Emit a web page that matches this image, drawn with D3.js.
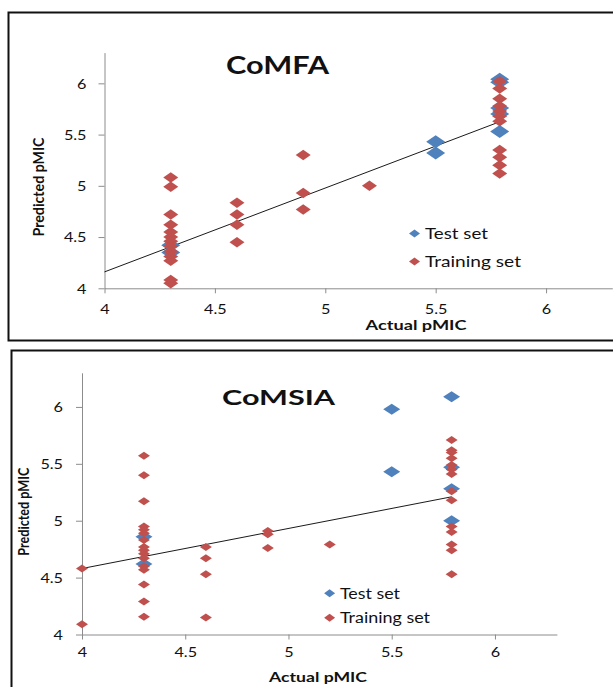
<!DOCTYPE html>
<html><head><meta charset="utf-8">
<script src="https://cdn.jsdelivr.net/npm/d3@7"></script>
<style>body{margin:0;background:#fff}svg{display:block}text{font-family:Lato,"Open Sans",sans-serif;fill:#111}</style>
</head><body>
<svg id="c" width="613" height="687"></svg>
<script>
// ---- data ----
const xTicks = [4, 4.5, 5, 5.5, 6];
const yTicks = [4, 4.5, 5, 5.5, 6];
const titles = ["CoMFA", "CoMSIA"];
const seriesNames = ["Test set", "Training set"];

const comfaTestActual = [4.3, 4.3, 5.5, 5.5, 5.79, 5.79, 5.79, 5.79, 5.79];
const comfaTestPred   = [4.42, 4.35, 5.43, 5.32, 6.04, 6.01, 5.76, 5.70, 5.53];
const comfaTrainActual = [4.3,4.3,4.3,4.3,4.3,4.3,4.3,4.3,4.3,4.3,4.3,4.3,4.3,
  4.6,4.6,4.6,4.6, 4.9,4.9,4.9, 5.2,
  5.79,5.79,5.79,5.79,5.79,5.79,5.79,5.79,5.79,5.79,5.79];
const comfaTrainPred = [5.08,4.99,4.72,4.62,4.55,4.50,4.46,4.41,4.36,4.31,4.27,4.08,4.05,
  4.835,4.72,4.62,4.45, 5.30,4.93,4.77, 5.00,
  6.02,5.95,5.85,5.78,5.73,5.68,5.63,5.35,5.28,5.20,5.12];
const comfaFitX = [4, 5.79];
const comfaFitY = [4.16, 5.625];

const comsiaTestActual = [4.3, 4.3, 5.5, 5.5, 5.79, 5.79, 5.79, 5.79];
const comsiaTestPred   = [4.86, 4.62, 5.98, 5.43, 6.09, 5.47, 5.28, 5.00];
const comsiaTrainActual = [4, 4,
  4.3,4.3,4.3,4.3,4.3,4.3,4.3,4.3,4.3,4.3,4.3,4.3,4.3,4.3,4.3,4.3,
  4.6,4.6,4.6,4.6, 4.9,4.9,4.9, 5.2,
  5.79,5.79,5.79,5.79,5.79,5.79,5.79,5.79,5.79,5.79,5.79,5.79,5.79,5.79];
const comsiaTrainPred = [4.58, 4.09,
  5.57,5.40,5.17,4.95,4.92,4.89,4.83,4.77,4.74,4.71,4.67,4.60,4.57,4.44,4.29,4.155,
  4.77,4.67,4.53,4.15, 4.91,4.88,4.76, 4.79,
  5.71,5.62,5.60,5.55,5.49,5.45,5.41,5.26,5.18,4.95,4.90,4.79,4.74,4.53];
const comsiaFitX = [4, 5.79];
const comsiaFitY = [4.58, 5.21];

const xLabel = "Actual pMIC";
const yLabel = "Predicted pMIC";
const colTest = "#4F81BD", colTrain = "#C0504D";

// ---- drawing ----
const svg = d3.select("#c");
const SX = 1.2; // horizontal text stretch of the original picture

function stretch(sel, k) {
  sel.each(function () {
    const L = this.getComputedTextLength();
    this.setAttribute("textLength", L * k);
    this.setAttribute("lengthAdjust", "spacingAndGlyphs");
  });
}
function fit(sel, w) {
  sel.attr("textLength", w).attr("lengthAdjust", "spacingAndGlyphs");
}
function diamond(w, h) {
  return `M0,${-h/2}L${w/2},0L0,${h/2}L${-w/2},0Z`;
}

const panels = [
  {frame:[8.5,12.5,700,328], x:[104.5,612.3], y:[288.3,52.6],
   title:titles[0], titleX:277.5, titleY:73.5, titleSize:25, titleW:103,
   test:[comfaTestActual, comfaTestPred], train:[comfaTrainActual, comfaTrainPred],
   fit:[comfaFitX, comfaFitY], testD:[19,13], trainD:[15,10.5],
   yTickGap:18, xTickDy:21, xLab:[416,330,101], yLab:[44,187,99],
   leg:[414.5,233.5,261.5,425], legW:[63,96], legSize:15},
  {frame:[11.5,350.5,700,400], x:[82,556.9], y:[634.5,372.8],
   title:titles[1], titleX:278.5, titleY:405, titleSize:21, titleW:113,
   test:[comsiaTestActual, comsiaTestPred], train:[comsiaTrainActual, comsiaTrainPred],
   fit:[comsiaFitX, comsiaFitY], testD:[17,11], trainD:[12,8],
   yTickGap:19, xTickDy:17.5, xLab:[318,682,98], yLab:[29,511.7,88],
   leg:[329.6,593.3,617.7,340], legW:[60,90], legSize:14.5}
];

panels.forEach(p => {
  svg.append("rect").attr("x",p.frame[0]).attr("y",p.frame[1])
    .attr("width",p.frame[2]).attr("height",p.frame[3])
    .attr("fill","none").attr("stroke","#111").attr("stroke-width",2);

  const x = d3.scaleLinear().domain([4,6.3]).range(p.x);
  const y = d3.scaleLinear().domain([4,6.3]).range(p.y);
  const g = svg.append("g");

  // axes
  const xa = g.append("g").attr("transform",`translate(0,${p.y[0]})`)
    .call(d3.axisBottom(x).tickValues(xTicks).tickSize(5).tickSizeOuter(0).tickFormat(d3.format("")));
  const ya = g.append("g").attr("transform",`translate(${p.x[0]},0)`)
    .call(d3.axisLeft(y).tickValues(yTicks).tickSize(6).tickSizeOuter(0).tickFormat(d3.format("")));
  [xa, ya].forEach(a => {
    a.select(".domain").attr("stroke","#8c8c8c");
    a.selectAll(".tick line").attr("stroke","#8c8c8c");
    a.selectAll("text").style("font-size","13.5px").attr("fill","#1a1a1a");
  });
  xa.selectAll("text").attr("y", p.xTickDy + 4.8).attr("dy","0");
  ya.selectAll("text").attr("x", -p.yTickGap).attr("dy","0.35em");
  stretch(xa.selectAll("text"), SX);
  stretch(ya.selectAll("text"), SX);

  // regression line
  const line = d3.line().x(d => x(d[0])).y(d => y(d[1]));
  g.append("path").datum(d3.zip(p.fit[0], p.fit[1])).attr("d", line)
    .attr("fill","none").attr("stroke","#1a1a1a").attr("stroke-width",1);

  // points: test first, training on top
  g.append("g").selectAll("path").data(d3.zip(p.test[0], p.test[1])).join("path")
    .attr("d", diamond(p.testD[0], p.testD[1]))
    .attr("transform", d => `translate(${x(d[0])},${y(d[1])})`)
    .attr("fill", colTest);
  g.append("g").selectAll("path").data(d3.zip(p.train[0], p.train[1])).join("path")
    .attr("d", diamond(p.trainD[0], p.trainD[1]))
    .attr("transform", d => `translate(${x(d[0])},${y(d[1])})`)
    .attr("fill", colTrain);

  // title
  fit(g.append("text").attr("x",p.titleX).attr("y",p.titleY).attr("text-anchor","middle")
    .style("font-size",p.titleSize+"px").style("font-weight","bold").text(p.title), p.titleW);

  // axis titles
  fit(g.append("text").attr("x",p.xLab[0]).attr("y",p.xLab[1]).attr("text-anchor","middle")
    .style("font-size","14px").style("font-weight","bold").text(xLabel), p.xLab[2]);
  fit(g.append("text").attr("transform",`translate(${p.yLab[0]},${p.yLab[1]}) rotate(-90)`)
    .attr("text-anchor","middle").style("font-size","15px").style("font-weight","bold")
    .text(yLabel), p.yLab[2]);

  // legend
  const cols = [colTest, colTrain];
  [p.leg[1], p.leg[2]].forEach((ly, i) => {
    g.append("path").attr("d", diamond(11, 8)).attr("transform",`translate(${p.leg[0]},${ly})`)
      .attr("fill", cols[i]);
    fit(g.append("text").attr("x",p.leg[3]).attr("y",ly).attr("dy","0.36em")
      .style("font-size",p.legSize+"px").text(seriesNames[i]), p.legW[i]);
  });
});
</script>
</body></html>
